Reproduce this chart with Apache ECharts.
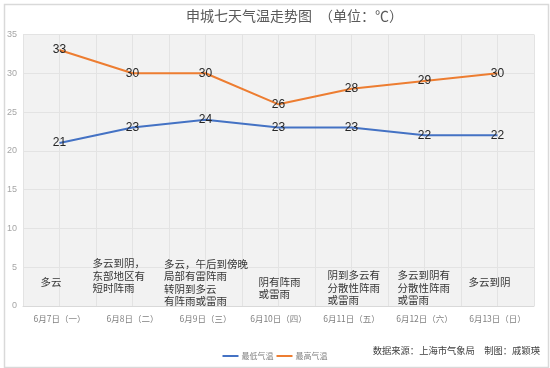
<!DOCTYPE html>
<html><head><meta charset="utf-8">
<script src="https://cdn.jsdelivr.net/npm/echarts@6/dist/echarts.min.js"></script>
<style>html,body{margin:0;padding:0;background:#fff}#c{width:550px;height:368px}</style>
</head><body><div id="c"></div>
<script>
const categories = ['6月7日（一）','6月8日（二）','6月9日（三）','6月10日（四）','6月11日（五）','6月12日（六）','6月13日（日）'];
const lowTemp = [21, 23, 24, 23, 23, 22, 22];
const highTemp = [33, 30, 30, 26, 28, 29, 30];
const weather = ['多云','多云到阴，\n东部地区有\n短时阵雨','多云，午后到傍晚\n局部有雷阵雨\n转阴到多云\n有阵雨或雷雨','阴有阵雨\n或雷雨','阴到多云有\n分散性阵雨\n或雷雨','多云到阴有\n分散性阵雨\n或雷雨','多云到阴'];
const yTicks = [0, 5, 10, 15, 20, 25, 30, 35];
const seriesNames = ['最低气温', '最高气温'];

// layout only: label placement offsets (px) of each weather note
const noteOffsets = [[-19,-30],[-40,-49],[-41.5,-48.5],[-20,-30.5],[-24,-37],[-27,-37],[-29,-30.5]];

const halfTicks = [];
categories.forEach(c => { halfTicks.push(c + 'a'); halfTicks.push(c + 'b'); });

const chart = echarts.init(document.getElementById('c'), null, {renderer: 'canvas'});
const cjk = '"Noto Sans CJK SC", "Microsoft YaHei", sans-serif';
const numFont = '"Liberation Sans", Arial, sans-serif';
chart.setOption({
  animation: false,
  backgroundColor: '#fff',
  title: {
    text: '申城七天气温走势图　（单位：℃）',
    left: 186, top: 9, padding: 0,
    textStyle: {fontSize: 14, fontWeight: 'normal', color: '#595959', fontFamily: cjk}
  },
  grid: {left: 23, right: 16, top: 34.5, bottom: 62, show: true, backgroundColor: '#f2f2f2', borderWidth: 0},
  legend: {
    data: seriesNames, left: 'center', top: 347, icon: 'rect', itemWidth: 16, itemHeight: 2, itemGap: 3,
    textStyle: {fontSize: 8, color: '#808080', fontFamily: cjk, padding: [0,0,0,-2]}
  },
  xAxis: [{
    type: 'category', data: categories, boundaryGap: true,
    axisLine: {show: true, lineStyle: {color: '#d9d9d9'}},
    axisTick: {show: false},
    axisLabel: {fontSize: 8.5, color: '#808080', margin: 9, fontFamily: cjk, interval: 0},
    splitLine: {show: false}
  }, {
    type: 'category', data: halfTicks, position: 'bottom', boundaryGap: true,
    axisLine: {show: false}, axisTick: {show: false}, axisLabel: {show: false},
    splitLine: {show: true, interval: 0, lineStyle: {color: '#e3e3e3', width: 1}}
  }],
  yAxis: {
    type: 'value', min: 0, max: 35, interval: 5,
    axisLine: {show: false}, axisTick: {show: false},
    axisLabel: {fontSize: 9, color: '#a6a6a6', margin: 6, fontFamily: numFont,
      formatter: v => yTicks.includes(v) ? String(v) : ''},
    splitLine: {show: true, lineStyle: {color: '#e3e3e3', width: 1}}
  },
  series: [{
    name: '天气', type: 'scatter', xAxisIndex: 0, symbolSize: 0, silent: true, z: 1,
    data: weather.map((t, i) => ({value: [i, 0], label: {offset: noteOffsets[i]}})),
    label: {show: true, position: [0, 0], align: 'left', verticalAlign: 'top',
      formatter: p => weather[p.dataIndex], fontSize: 10.5, lineHeight: 12.5, color: '#000000', fontFamily: cjk}
  }, {
    name: seriesNames[0], type: 'line', data: lowTemp, xAxisIndex: 0, z: 3,
    symbol: 'circle', symbolSize: 0, showSymbol: true,
    lineStyle: {color: '#4472c4', width: 2}, itemStyle: {color: '#4472c4'},
    label: {show: true, position: 'inside', fontSize: 12, color: '#262626', fontFamily: numFont}
  }, {
    name: seriesNames[1], type: 'line', data: highTemp, xAxisIndex: 0, z: 3,
    symbol: 'circle', symbolSize: 0, showSymbol: true,
    lineStyle: {color: '#ed7d31', width: 2}, itemStyle: {color: '#ed7d31'},
    label: {show: true, position: 'inside', fontSize: 12, color: '#262626', fontFamily: numFont}
  }],
  graphic: [{
    type: 'rect', left: 2, top: 2, silent: true, z: -1,
    shape: {width: 544, height: 363}, style: {fill: 'none', stroke: '#d9d9d9', lineWidth: 1.5}
  }, {
    type: 'text', right: 10, top: 346, silent: true,
    style: {text: '数据来源：上海市气象局　制图：戚颖瑛', font: '9.3px ' + cjk, fill: '#404040'}
  }]
});
</script></body></html>
